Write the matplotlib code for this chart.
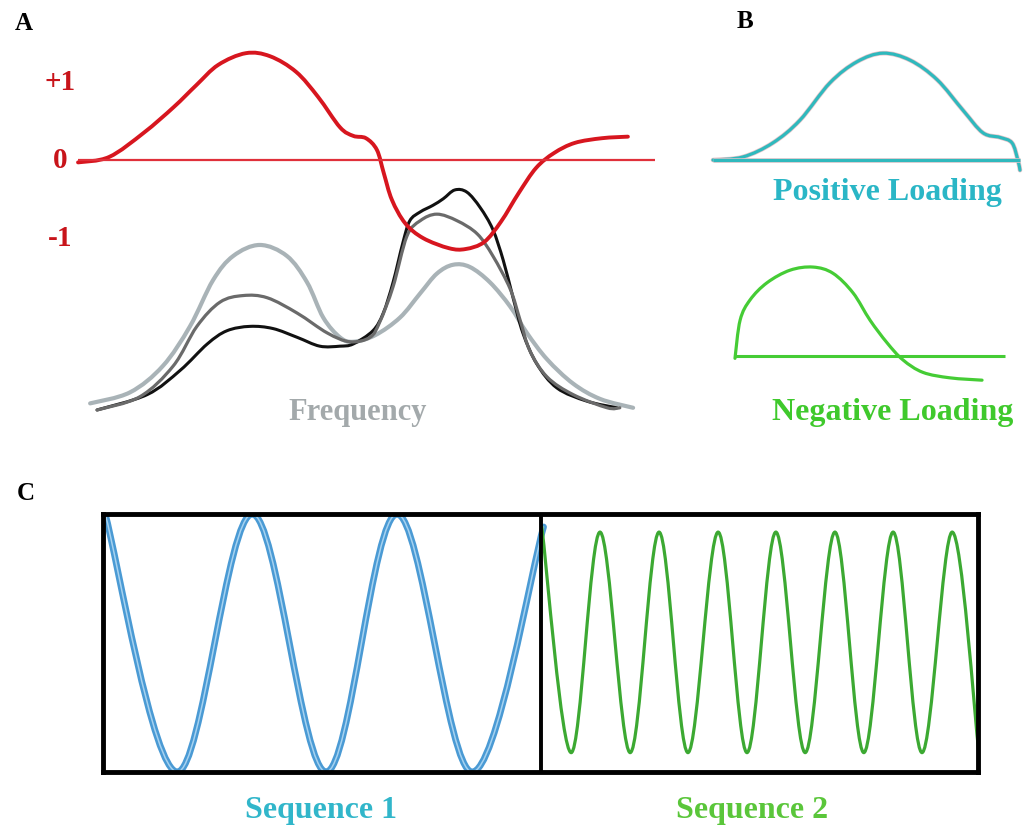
import numpy as np
import matplotlib
matplotlib.use("Agg")
import matplotlib.pyplot as plt
from matplotlib.path import Path
from matplotlib.patches import PathPatch
import matplotlib.patheffects as pe

plt.rcParams['font.family'] = ['Liberation Serif', 'DejaVu Serif']
plt.rcParams['font.weight'] = 'bold'

W, H = 1023, 830

# --- A: loading curve (red) and three spectra ---
red_freq = [0, 5.4, 11.4, 16.6, 20.5, 24.3, 29.1, 33.3, 37.8, 41.6, 45.4, 47.7,
            49.9, 51.8, 53.0, 54.4, 56.7, 59.8, 64.3, 67.2, 70.4, 73.3, 76.4,
            79.4, 82.5, 86.1, 90.8, 95.3]
red_loading = [-0.03, 0.04, 0.35, 0.68, 0.96, 1.22, 1.37, 1.33, 1.13, 0.81, 0.42,
               0.31, 0.28, 0.13, -0.17, -0.51, -0.81, -1.0, -1.13, -1.14, -1.05,
               -0.79, -0.42, -0.10, 0.09, 0.22, 0.28, 0.30]

light_freq = [2.1, 9.0, 14.7, 19.4, 23.4, 26.9, 31.5, 36.2, 39.7, 42.5, 45.4,
              47.7, 51.5, 55.8, 59.3, 62.2, 65.0, 67.9, 71.4, 74.9, 77.8, 81.3,
              85.8, 90.5, 96.2]
light_int = [0.03, 0.08, 0.20, 0.38, 0.59, 0.70, 0.75, 0.70, 0.58, 0.42, 0.33,
             0.31, 0.34, 0.42, 0.53, 0.62, 0.66, 0.65, 0.58, 0.47, 0.35, 0.23,
             0.12, 0.05, 0.01]

dark_freq = [3.3, 10.7, 16.5, 20.6, 24.6, 28.6, 32.8, 38.0, 43.2, 47.1, 50.6,
             52.3, 54.6, 57.0, 59.3, 62.2, 65.7, 69.2, 71.9, 74.9, 76.6, 78.3,
             81.3, 85.8, 91.7, 93.9]
dark_int = [0.0, 0.06, 0.20, 0.38, 0.49, 0.52, 0.51, 0.44, 0.35, 0.31, 0.33,
            0.40, 0.56, 0.79, 0.86, 0.89, 0.86, 0.80, 0.70, 0.55, 0.41, 0.27,
            0.15, 0.07, 0.01, 0.01]

black_freq = [3.3, 12.0, 17.7, 22.4, 25.8, 29.8, 33.8, 38.0, 41.9, 45.4, 47.7,
              51.1, 52.9, 54.6, 56.3, 57.5, 59.3, 61.5, 63.3, 65.3, 67.4, 69.7,
              71.9, 73.7, 75.4, 77.1, 79.5, 83.0, 88.2, 93.4]
black_int = [0.0, 0.07, 0.18, 0.30, 0.36, 0.38, 0.37, 0.33, 0.29, 0.29, 0.30,
             0.36, 0.44, 0.58, 0.76, 0.86, 0.90, 0.93, 0.96, 1.00, 0.99, 0.92,
             0.82, 0.68, 0.51, 0.35, 0.21, 0.10, 0.04, 0.01]

loading_ticks = [1, 0, -1]
loading_tick_labels = ['+1', '0', '-1']

# --- B: example loadings ---
pos_x = [0, 9.8, 19.5, 28.3, 38.1, 46.9, 55.4, 64.2, 73.0, 81.4, 87.9, 93.5,
         97.4, 99.3, 100]
pos_y = [0.0, 0.04, 0.22, 0.51, 0.99, 1.26, 1.37, 1.28, 1.03, 0.64, 0.35, 0.29,
         0.22, 0.0, -0.13]

neg_x = [0, 1.9, 5.6, 11.9, 20.4, 28.9, 36.3, 43.7, 50.0, 56.3, 62.2, 69.6,
         79.6, 91.5]
neg_y = [-0.03, 0.46, 0.72, 0.94, 1.10, 1.14, 1.06, 0.81, 0.46, 0.17, -0.05,
         -0.21, -0.28, -0.31]

# --- C: two sequences (turning points) ---
seq1_t = [0.005, 0.170, 0.341, 0.510, 0.672, 0.843, 1.007]
seq1_y = [1.0, -1.0, 1.0, -1.0, 1.0, -1.0, 0.9]

seq2_t = [1.003, 1.070, 1.136, 1.205, 1.271, 1.337, 1.406, 1.472, 1.538, 1.605,
          1.673, 1.739, 1.806, 1.872, 1.941, 2.002]
seq2_y = [0.9, -0.85, 0.86, -0.85, 0.86, -0.85, 0.86, -0.85, 0.86, -0.85,
          0.86, -0.85, 0.86, -0.85, 0.86, -0.85]


def smooth_path(xs, ys):
    # Catmull-Rom through the points, drawn as cubic Bezier segments
    p = np.column_stack([xs, ys]).astype(float)
    n = len(p)
    verts = [p[0]]
    codes = [Path.MOVETO]
    for i in range(n - 1):
        p0 = p[i - 1] if i > 0 else p[i]
        p3 = p[i + 2] if i + 2 < n else p[i + 1]
        verts += [p[i] + (p[i + 1] - p0) / 6, p[i + 1] - (p3 - p[i]) / 6, p[i + 1]]
        codes += [Path.CURVE4] * 3
    return Path(verts, codes)


def draw_curve(ax, xs, ys, color, lw, **kw):
    patch = PathPatch(smooth_path(xs, ys), facecolor='none', edgecolor=color,
                      lw=lw, capstyle='round', joinstyle='round', **kw)
    ax.add_patch(patch)
    return patch


def px_axes(x0, y0, x1, y1):
    ax = fig.add_axes([x0 / W, 1 - y1 / H, (x1 - x0) / W, (y1 - y0) / H])
    ax.set_facecolor('none')
    ax.set_axis_off()
    return ax


fig = plt.figure(figsize=(W / 100, H / 100), dpi=100)

# panel A -- spectra underneath, loading on top
ax_spec = px_axes(40, 30, 680, 430)
ax_spec.set_xlim(-6.59, 104.33)
ax_spec.set_ylim(-0.091, 1.727)
draw_curve(ax_spec, light_freq, light_int, '#a9b3b7', 3.0)
draw_curve(ax_spec, black_freq, black_int, '#111111', 2.2)
draw_curve(ax_spec, dark_freq, dark_int, '#6a6a6a', 2.3)
ax_spec.text(48.5, -0.045, 'Frequency', ha='center', va='baseline',
             color='#a3a9ab', fontsize=22)

ax_load = px_axes(40, 30, 680, 430)
ax_load.set_xlim(-6.59, 104.33)
ax_load.set_ylim(-3.46, 1.667)
ax_load.hlines(0, 0, 100, color='#e0303a', lw=1.6)
draw_curve(ax_load, red_freq, red_loading, '#d7161f', 2.8)
for v, lab in zip(loading_ticks, loading_tick_labels):
    ax_load.text(-3.1, v, lab, ha='center', va='center', color='#c8141a',
                 fontsize=21)

# panel B
ax_pos = px_axes(700, 30, 1023, 230)
ax_pos.set_xlim(-4.23, 100.98)
ax_pos.set_ylim(-0.897, 1.667)
pink_edge = [pe.Stroke(linewidth=3.3, foreground='#e8c4c9'), pe.Normal()]
ax_pos.hlines(0, 0, 100, color='#2fb9bd', lw=2.3, path_effects=pink_edge)
draw_curve(ax_pos, pos_x, pos_y, '#2fb9bd', 2.3, path_effects=pink_edge)
ax_pos.text(56.7, -0.51, 'Positive Loading', ha='center', va='baseline',
            color='#2ab6c6', fontsize=23)

ax_neg = px_axes(700, 240, 1023, 440)
ax_neg.set_xlim(-12.96, 106.67)
ax_neg.set_ylim(-1.077, 1.487)
ax_neg.hlines(0, 0, 100, color='#45cc35', lw=2.2)
draw_curve(ax_neg, neg_x, neg_y, '#45cc35', 2.3)
ax_neg.text(58.5, -0.82, 'Negative Loading', ha='center', va='baseline',
            color='#3fc92c', fontsize=23)

# panel C
ax_seq = fig.add_axes([103 / W, 1 - 772 / H, 875 / W, 258 / H])
ax_seq.set_xlim(0, 2)
ax_seq.set_ylim(-1, 1)
ax_seq.set_xticks([])
ax_seq.set_yticks([])
for s in ax_seq.spines.values():
    s.set_linewidth(3.5)
    s.set_color('black')
ax_seq.axvline(1.0, color='black', lw=2.8, zorder=3)
draw_curve(ax_seq, seq1_t, seq1_y, '#4a9ad4', 4.8)
draw_curve(ax_seq, seq1_t, seq1_y, '#a6d2f0', 1.1)
draw_curve(ax_seq, seq2_t, seq2_y, '#3ca932', 2.3)
ax_seq.text(0.498, -1.357, 'Sequence 1', ha='center', va='baseline',
            color='#31b6ca', fontsize=23, clip_on=False)
ax_seq.text(1.483, -1.357, 'Sequence 2', ha='center', va='baseline',
            color='#5ac63a', fontsize=23, clip_on=False)

# panel letters
for letter, x, y in [('A', 24, 23), ('B', 745, 22), ('C', 26, 493)]:
    fig.text(x / W, 1 - y / H, letter, ha='center', va='center', fontsize=18,
             color='black')

fig.savefig('out.png', dpi=100, facecolor='white')
